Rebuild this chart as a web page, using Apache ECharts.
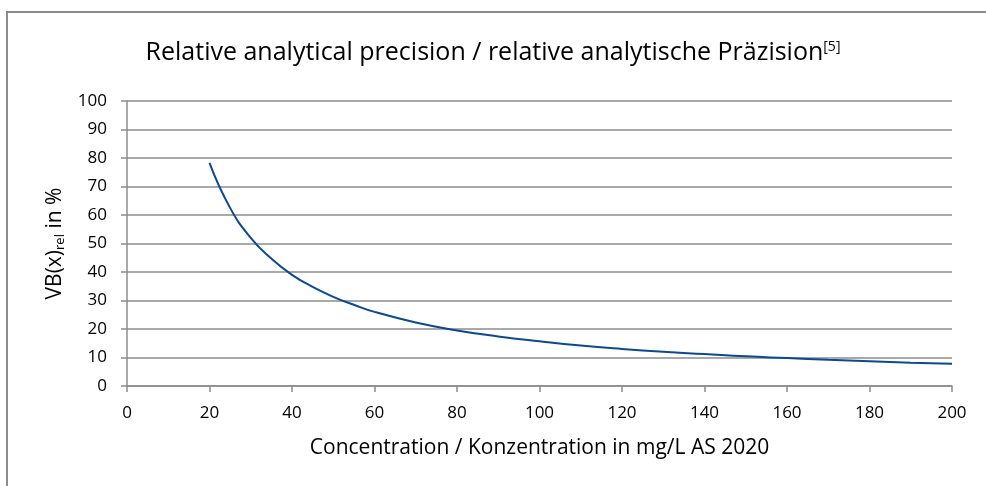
<!DOCTYPE html>
<html>
<head>
<meta charset="utf-8">
<script src="https://cdn.jsdelivr.net/npm/echarts@6/dist/echarts.min.js"></script>
<style>
  html, body { margin: 0; padding: 0; background: #fff; }
  .frame {
    position: absolute; left: 6px; top: 11px; width: 1200px; height: 600px;
    border-top: 2px solid #8c8c8c; border-left: 2px solid #8c8c8c;
  }
  #chart { position: absolute; left: 0; top: 0; width: 986px; height: 486px; }
</style>
</head>
<body>
<div class="frame"></div>
<div id="chart"></div>
<script>
// concentration in mg/L
const concentration = [20, 25, 30, 35, 40, 45, 50, 55, 60, 70, 80, 90, 100, 110, 120, 130, 140, 150, 160, 170, 180, 190, 200]
// VB(x)rel in %
const precision = [78.3, 62.5, 52, 44.7, 39, 34.8, 31.3, 28.5, 26, 22.3, 19.5, 17.4, 15.7, 14.2, 13, 12, 11.2, 10.4, 9.8, 9.2, 8.7, 8.2, 7.8]

const font = '"Open Sans", "Liberation Sans", sans-serif'
const gray = '#8c8c8c'

const myChart = echarts.init(document.getElementById('chart'))
const option = {
  animation: false,
  textStyle: { fontFamily: font },
  title: {
    text: 'Relative analytical precision / relative analytische Präzision{sup|[5]}',
    left: 'center',
    top: 35,
    textStyle: {
      fontFamily: font, fontWeight: 'normal', fontSize: 25, color: '#000',
      rich: {
        sup: { fontFamily: font, fontSize: 14, color: '#000', verticalAlign: 'top', padding: [0, 0, 12, 0] }
      }
    }
  },
  grid: { left: 127, right: 34, top: 101, bottom: 100 },
  xAxis: {
    type: 'value',
    min: 0, max: 200, interval: 20,
    name: 'Concentration / Konzentration in mg/L AS 2020',
    nameLocation: 'middle',
    nameGap: 52,
    nameTextStyle: { fontFamily: font, fontSize: 21, color: '#000' },
    axisLine: { lineStyle: { color: gray, width: 1.5 } },
    axisTick: { inside: false, length: 6, lineStyle: { color: gray, width: 1.5 } },
    axisLabel: { fontFamily: font, fontSize: 17, color: '#000', margin: 19 },
    splitLine: { show: false }
  },
  yAxis: {
    type: 'value',
    min: 0, max: 100, interval: 10,
    name: 'VB(x){sub|rel} in %',
    nameLocation: 'middle',
    nameRotate: 90,
    nameGap: 52,
    nameTextStyle: {
      fontFamily: font, fontSize: 21, color: '#000',
      rich: {
        sub: { fontFamily: font, fontSize: 13, color: '#000', verticalAlign: 'bottom', padding: [10, 0, 0, 0] }
      }
    },
    axisLine: { show: true, lineStyle: { color: gray, width: 1.5 } },
    axisTick: { show: true, length: 6, lineStyle: { color: gray, width: 1.5 } },
    axisLabel: { fontFamily: font, fontSize: 17, color: '#000', margin: 20 },
    splitLine: { lineStyle: { color: gray, width: 1.5 } }
  },
  series: [
    {
      type: 'line',
      data: concentration.map((c, i) => [c, precision[i]]),
      smooth: 0.5,
      showSymbol: false,
      lineStyle: { color: '#0b4a92', width: 2 }
    }
  ]
}
myChart.setOption(option)
</script>
</body>
</html>
